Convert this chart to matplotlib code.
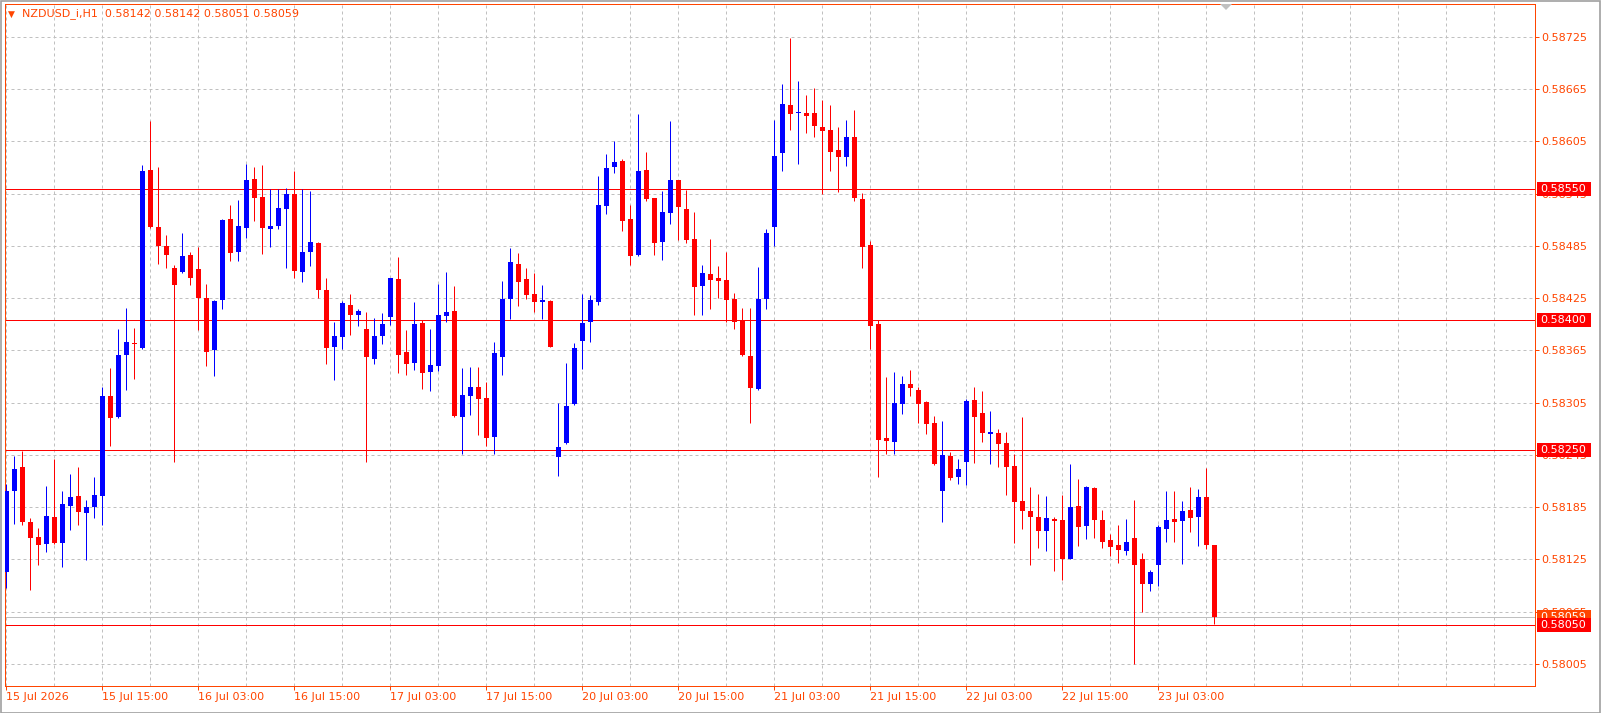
import matplotlib
matplotlib.use("Agg")
import matplotlib.pyplot as plt
from matplotlib.patches import Rectangle, Polygon
from matplotlib.ticker import FixedLocator, NullFormatter

# ---------------- data ----------------
symbol_title = "NZDUSD_i,H1  0.58142 0.58142 0.58051 0.58059"

opens = [
    0.58111, 0.58204, 0.58231, 0.58168, 0.58151, 0.58143, 0.58174, 0.58144, 0.58186, 0.58198, 0.58178, 0.58185,
    0.58198, 0.58313, 0.58288, 0.58360, 0.58373, 0.58368, 0.58572, 0.58507, 0.58485, 0.58460, 0.58455, 0.58474,
    0.58458, 0.58425, 0.58365, 0.58423, 0.58516, 0.58478, 0.58506, 0.58562, 0.58541, 0.58504, 0.58508, 0.58527,
    0.58545, 0.58455, 0.58478, 0.58488, 0.58434, 0.58369, 0.58380, 0.58417, 0.58405, 0.58390, 0.58355, 0.58381,
    0.58403, 0.58447, 0.58363, 0.58350, 0.58396, 0.58340, 0.58347, 0.58404, 0.58410, 0.58288, 0.58313, 0.58323,
    0.58310, 0.58265, 0.58357, 0.58424, 0.58464, 0.58447, 0.58430, 0.58421, 0.58422, 0.58243, 0.58259, 0.58303,
    0.58376, 0.58397, 0.58421, 0.58531, 0.58575, 0.58582, 0.58516, 0.58474, 0.58572, 0.58540, 0.58489, 0.58523,
    0.58561, 0.58527, 0.58493, 0.58439, 0.58453, 0.58448, 0.58446, 0.58424, 0.58400, 0.58359, 0.58321, 0.58424,
    0.58507, 0.58592, 0.58647, 0.58637, 0.58637, 0.58637, 0.58621, 0.58618, 0.58595, 0.58587, 0.58610, 0.58539,
    0.58486, 0.58395, 0.58264, 0.58260, 0.58303, 0.58326, 0.58319, 0.58306, 0.58282, 0.58204, 0.58244, 0.58219,
    0.58237, 0.58308, 0.58293, 0.58269, 0.58270, 0.58259, 0.58232, 0.58192, 0.58181, 0.58174, 0.58158, 0.58171,
    0.58170, 0.58125, 0.58186, 0.58163, 0.58207, 0.58170, 0.58147, 0.58142, 0.58135, 0.58150, 0.58125, 0.58097,
    0.58119, 0.58160, 0.58171, 0.58169, 0.58182, 0.58174, 0.58197, 0.58142,
]
highs = [
    0.58212, 0.58244, 0.58249, 0.58173, 0.58161, 0.58209, 0.58240, 0.58203, 0.58223, 0.58231, 0.58193, 0.58219,
    0.58323, 0.58345, 0.58389, 0.58414, 0.58391, 0.58578, 0.58628, 0.58576, 0.58497, 0.58463, 0.58500, 0.58478,
    0.58484, 0.58441, 0.58423, 0.58516, 0.58532, 0.58538, 0.58579, 0.58576, 0.58578, 0.58550, 0.58550, 0.58551,
    0.58571, 0.58550, 0.58548, 0.58489, 0.58448, 0.58398, 0.58422, 0.58430, 0.58412, 0.58409, 0.58402, 0.58408,
    0.58448, 0.58472, 0.58388, 0.58420, 0.58400, 0.58389, 0.58441, 0.58455, 0.58439, 0.58345, 0.58346, 0.58346,
    0.58329, 0.58375, 0.58445, 0.58482, 0.58477, 0.58460, 0.58454, 0.58440, 0.58423, 0.58305, 0.58351, 0.58373,
    0.58430, 0.58429, 0.58565, 0.58590, 0.58605, 0.58585, 0.58532, 0.58636, 0.58593, 0.58540, 0.58548, 0.58628,
    0.58561, 0.58549, 0.58524, 0.58463, 0.58493, 0.58462, 0.58478, 0.58431, 0.58414, 0.58414, 0.58461, 0.58504,
    0.58629, 0.58671, 0.58724, 0.58674, 0.58658, 0.58666, 0.58652, 0.58647, 0.58621, 0.58629, 0.58641, 0.58546,
    0.58490, 0.58400, 0.58334, 0.58340, 0.58335, 0.58342, 0.58323, 0.58307, 0.58290, 0.58284, 0.58248, 0.58240,
    0.58309, 0.58323, 0.58318, 0.58295, 0.58275, 0.58271, 0.58246, 0.58288, 0.58208, 0.58200, 0.58198, 0.58174,
    0.58199, 0.58234, 0.58217, 0.58209, 0.58208, 0.58182, 0.58154, 0.58164, 0.58171, 0.58193, 0.58132, 0.58113,
    0.58164, 0.58204, 0.58204, 0.58192, 0.58208, 0.58206, 0.58230, 0.58142,
]
lows = [
    0.58092, 0.58166, 0.58164, 0.58090, 0.58119, 0.58133, 0.58143, 0.58116, 0.58159, 0.58164, 0.58124, 0.58172,
    0.58165, 0.58255, 0.58287, 0.58319, 0.58332, 0.58366, 0.58506, 0.58464, 0.58460, 0.58237, 0.58454, 0.58440,
    0.58388, 0.58347, 0.58335, 0.58413, 0.58468, 0.58467, 0.58494, 0.58514, 0.58476, 0.58484, 0.58504, 0.58460,
    0.58448, 0.58444, 0.58462, 0.58425, 0.58349, 0.58331, 0.58367, 0.58383, 0.58393, 0.58237, 0.58349, 0.58372,
    0.58394, 0.58339, 0.58337, 0.58342, 0.58321, 0.58318, 0.58341, 0.58397, 0.58289, 0.58246, 0.58291, 0.58268,
    0.58255, 0.58246, 0.58337, 0.58401, 0.58416, 0.58424, 0.58409, 0.58401, 0.58369, 0.58221, 0.58258, 0.58302,
    0.58343, 0.58375, 0.58417, 0.58522, 0.58569, 0.58502, 0.58463, 0.58473, 0.58536, 0.58474, 0.58469, 0.58510,
    0.58492, 0.58488, 0.58406, 0.58406, 0.58412, 0.58425, 0.58398, 0.58389, 0.58358, 0.58282, 0.58320, 0.58412,
    0.58485, 0.58571, 0.58618, 0.58579, 0.58614, 0.58610, 0.58544, 0.58571, 0.58547, 0.58577, 0.58536, 0.58460,
    0.58366, 0.58219, 0.58246, 0.58246, 0.58292, 0.58312, 0.58281, 0.58269, 0.58233, 0.58168, 0.58216, 0.58212,
    0.58210, 0.58236, 0.58260, 0.58235, 0.58231, 0.58199, 0.58144, 0.58160, 0.58119, 0.58138, 0.58135, 0.58112,
    0.58101, 0.58125, 0.58140, 0.58148, 0.58150, 0.58138, 0.58129, 0.58121, 0.58130, 0.58005, 0.58065, 0.58089,
    0.58094, 0.58145, 0.58145, 0.58120, 0.58156, 0.58140, 0.58137, 0.58051,
]
closes = [
    0.58203, 0.58229, 0.58168, 0.58149, 0.58142, 0.58175, 0.58144, 0.58188, 0.58197, 0.58179, 0.58185, 0.58199,
    0.58313, 0.58287, 0.58360, 0.58375, 0.58372, 0.58571, 0.58507, 0.58485, 0.58475, 0.58440, 0.58473, 0.58448,
    0.58425, 0.58363, 0.58422, 0.58515, 0.58477, 0.58508, 0.58561, 0.58540, 0.58505, 0.58508, 0.58528, 0.58545,
    0.58456, 0.58478, 0.58489, 0.58434, 0.58368, 0.58381, 0.58419, 0.58405, 0.58410, 0.58357, 0.58381, 0.58395,
    0.58448, 0.58360, 0.58349, 0.58395, 0.58339, 0.58348, 0.58406, 0.58409, 0.58290, 0.58314, 0.58323, 0.58309,
    0.58264, 0.58362, 0.58424, 0.58466, 0.58443, 0.58428, 0.58420, 0.58423, 0.58369, 0.58254, 0.58301, 0.58368,
    0.58396, 0.58423, 0.58532, 0.58574, 0.58581, 0.58514, 0.58473, 0.58571, 0.58539, 0.58488, 0.58524, 0.58561,
    0.58529, 0.58492, 0.58438, 0.58454, 0.58446, 0.58445, 0.58423, 0.58398, 0.58360, 0.58322, 0.58424, 0.58500,
    0.58588, 0.58648, 0.58636, 0.58639, 0.58634, 0.58622, 0.58617, 0.58593, 0.58587, 0.58610, 0.58540, 0.58484,
    0.58393, 0.58262, 0.58261, 0.58304, 0.58326, 0.58322, 0.58303, 0.58280, 0.58234, 0.58245, 0.58218, 0.58229,
    0.58307, 0.58289, 0.58270, 0.58271, 0.58257, 0.58231, 0.58191, 0.58180, 0.58174, 0.58158, 0.58173, 0.58169,
    0.58125, 0.58185, 0.58162, 0.58208, 0.58170, 0.58145, 0.58139, 0.58136, 0.58145, 0.58119, 0.58097, 0.58111,
    0.58162, 0.58170, 0.58168, 0.58181, 0.58173, 0.58197, 0.58142, 0.58059,
]

time_labels = ["15 Jul 2026", "15 Jul 15:00", "16 Jul 03:00", "16 Jul 15:00", "17 Jul 03:00",
               "17 Jul 15:00", "20 Jul 03:00", "20 Jul 15:00", "21 Jul 03:00", "21 Jul 15:00",
               "22 Jul 03:00", "22 Jul 15:00", "23 Jul 03:00"]
label_step = 12          # bars between time labels
grid_step = 6            # bars between vertical grid lines

price_grid = [0.58005, 0.58065, 0.58125, 0.58185, 0.58245, 0.58305, 0.58365,
              0.58425, 0.58485, 0.58545, 0.58605, 0.58665, 0.58725]
level_lines = [0.58550, 0.58400, 0.58250, 0.58050]
bid_price = 0.58059

# ---------------- styling ----------------
W, H = 1601, 713
FG = "#FF4500"
BULL = "#0000FF"
BEAR = "#FF0000"
GRID = "#C0C0C0"
PX = 0.72  # one pixel in points

plt.rcParams["font.family"] = ["DejaVu Sans"]
fig = plt.figure(figsize=(W / 100, H / 100), dpi=100, facecolor="white")
ax = fig.add_axes([5 / W, 1 - 686 / H, 1530 / W, 682 / H])
ax.set_facecolor("white")

n = len(opens)
idx = list(range(n))
ymin, ymax = 0.579796, 0.587626
ax.set_xlim(-0.125, 191.125)
ax.set_ylim(ymin, ymax)
px_per_price = 682 / (ymax - ymin)
one_px = 1 / px_per_price

# grid
ax.xaxis.set_major_locator(FixedLocator(list(range(0, label_step * len(time_labels), label_step))))
ax.xaxis.set_minor_locator(FixedLocator(list(range(0, 192, grid_step))))
ax.set_xticklabels(time_labels)
ax.xaxis.set_minor_formatter(NullFormatter())
ax.set_yticks(price_grid)
ax.set_yticklabels([f"{p:.5f}" for p in price_grid])
ax.grid(True, which="both", color=GRID, lw=PX, linestyle=(0, (3, 3)))
ax.set_axisbelow(True)

ax.yaxis.tick_right()
ax.tick_params(axis="y", which="major", direction="out", length=4 * PX, width=PX,
               color=FG, labelcolor=FG, labelsize=8, pad=2 * PX)
ax.tick_params(axis="x", which="major", direction="out", length=4 * PX, width=PX,
               color=FG, labelcolor=FG, labelsize=8, pad=2 * PX)
ax.tick_params(axis="x", which="minor", length=0)
for lab in ax.get_xticklabels():
    lab.set_horizontalalignment("left")
for s in ax.spines.values():
    s.set_color(FG)
    s.set_linewidth(PX)

# level lines
for lv in level_lines:
    ax.axhline(lv, color="#FF0000", lw=PX, zorder=2)
ax.axhline(bid_price, color="#C0C0C0", lw=PX, zorder=2)

# candles
cols = [BULL if c >= o else BEAR for o, c in zip(opens, closes)]
ax.vlines(idx, lows, highs, colors=cols, lw=PX, zorder=3)
bottoms = [min(o, c) for o, c in zip(opens, closes)]
heights = [max(abs(c - o), one_px) for o, c in zip(opens, closes)]
ax.bar(idx, heights, bottom=bottoms, width=0.625, color=cols, lw=0, zorder=4)

# price boxes on the right scale
box_x0 = (1537 - 6) / 8
box_w = 54 / 8
box_h = 14 * one_px
text_x = (1540 - 6) / 8
ax.add_patch(Rectangle((box_x0, bid_price - box_h / 2), box_w, box_h, facecolor="#FF4500",
                       edgecolor="none", clip_on=False, zorder=10))
ax.text(text_x, bid_price, f"{bid_price:.5f}", color="white", fontsize=8, va="center",
        ha="left", clip_on=False, zorder=11)
for lv in level_lines:
    ax.add_patch(Rectangle((box_x0, lv - box_h / 2), box_w, box_h, facecolor="#FF0000",
                           edgecolor="none", clip_on=False, zorder=12))
    ax.text(text_x, lv, f"{lv:.5f}", color="white", fontsize=8, va="center", ha="left",
            clip_on=False, zorder=13)

# title
fig.text(8 / W, 1 - 14 / H, "▼", color=FG, fontsize=6.5, va="center", ha="left")
fig.text(22 / W, 1 - 14 / H, symbol_title, color=FG, fontsize=8, va="center", ha="left")

# chart shift marker
fig.add_artist(Polygon([[1220 / W, 1 - 4 / H], [1232 / W, 1 - 4 / H], [1226 / W, 1 - 10 / H]],
                       closed=True, facecolor="#C0C0C0", edgecolor="none", transform=fig.transFigure))

# window border
fig.add_artist(Rectangle((0.5 / W, 0.5 / H), 1 - 1.5 / W, 1 - 1.5 / H, fill=False,
                         edgecolor="#A0A0A0", lw=1.2, transform=fig.transFigure))

fig.savefig("out.png", dpi=100, facecolor="white")
